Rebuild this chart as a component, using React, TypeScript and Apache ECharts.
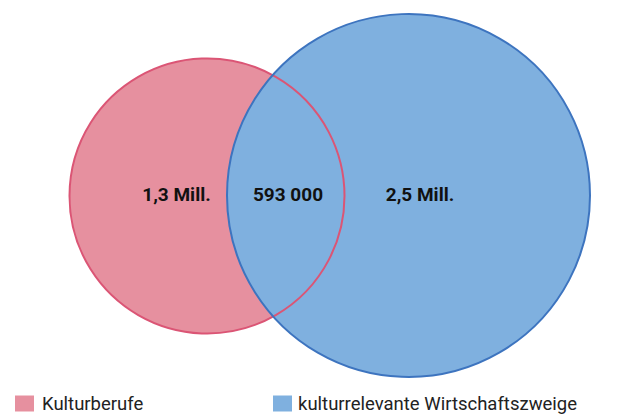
import React, { useEffect, useRef } from "react";
import * as echarts from "echarts";

// ---- data ----
const setNames = ["Kulturberufe", "kulturrelevante Wirtschaftszweige"];
const setOnlyLabels = ["1,3 Mill.", "2,5 Mill."];
const overlapLabel = "593 000";
const fillColors = ["#E6909F", "#7FB0DF"];
const strokeColors = ["#DB5575", "#3D74BF"];

// ---- layout (pixel geometry of the diagram) ----
const circleLayout = [
  { cx: 207, cy: 196, r: 137.5 },
  { cx: 408.5, cy: 195.5, r: 181.5 },
];
const labelX = [176.5, 420];
const overlapX = 288;
const labelY = 194;
const legendLeft = [15, 273];

export default function App() {
  const ref = useRef<HTMLDivElement>(null);
  useEffect(() => {
    if (!ref.current) return;
    const chart = echarts.init(ref.current, undefined, { renderer: "svg" });

    const fillSeries = setNames.map((name, i) => ({
      type: "custom",
      name,
      coordinateSystem: "none",
      z: 1 + i,
      silent: true,
      itemStyle: { color: fillColors[i] },
      data: [[i]],
      renderItem: () => ({
        type: "circle",
        shape: { cx: circleLayout[i].cx, cy: circleLayout[i].cy, r: circleLayout[i].r },
        style: { fill: fillColors[i], stroke: "none" },
      }),
    }));

    const labelStyle = {
      fill: "#111",
      font: "bold 19px Roboto",
      align: "center",
      verticalAlign: "middle",
    };

    const outlineSeries = {
      type: "custom",
      coordinateSystem: "none",
      z: 5,
      silent: true,
      data: [[0]],
      renderItem: () => ({
        type: "group",
        children: [
          ...setNames.map((_, i) => ({
            type: "circle",
            shape: { cx: circleLayout[i].cx, cy: circleLayout[i].cy, r: circleLayout[i].r },
            style: { fill: "none", stroke: strokeColors[i], lineWidth: 2 },
          })),
          ...setOnlyLabels.map((t, i) => ({
            type: "text",
            x: labelX[i],
            y: labelY,
            style: { ...labelStyle, text: t },
          })),
          {
            type: "text",
            x: overlapX,
            y: labelY,
            style: { ...labelStyle, text: overlapLabel },
          },
        ],
      }),
    };

    chart.setOption({
      animation: false,
      legend: setNames.map((name, i) => ({
        data: [name],
        left: legendLeft[i],
        top: 394,
        padding: 0,
        icon: "rect",
        itemWidth: 19,
        itemHeight: 16,
        itemStyle: { borderWidth: 0 },
        selectedMode: false,
        textStyle: {
          fontFamily: "Roboto",
          fontSize: 18.5,
          lineHeight: 18,
          color: "#222",
          padding: [0, 0, 0, i === 0 ? 3 : 1],
        },
      })),
      series: [...fillSeries, outlineSeries],
    });
    return () => chart.dispose();
  }, []);
  return (
    <div
      ref={ref}
      style={{ position: "fixed", left: 0, top: 0, width: 643, height: 414, background: "#fff" }}
    />
  );
}
